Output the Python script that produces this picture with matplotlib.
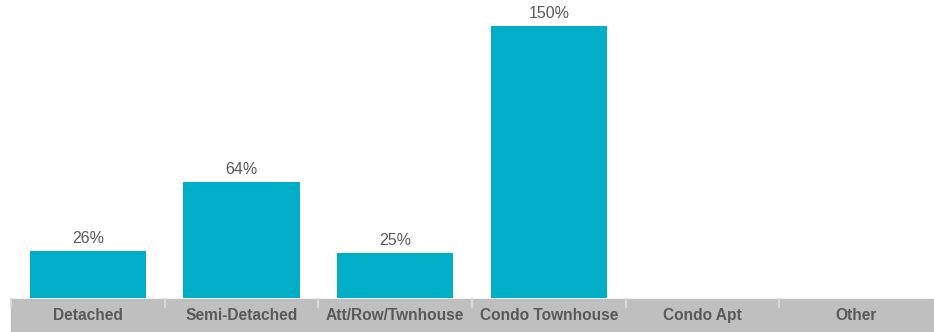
import matplotlib.pyplot as plt
from matplotlib.patches import Rectangle

categories = ["Detached", "Semi-Detached", "Att/Row/Twnhouse", "Condo Townhouse", "Condo Apt", "Other"]
values = [26, 64, 25, 150, 0, 0]
labels = ["26%", "64%", "25%", "150%", "", ""]

W, H = 934, 332
bar_color = "#00AEC7"
text_color = "#595959"
band_color = "#BFBFBF"

plt.rcParams['font.family'] = ['Liberation Sans', 'DejaVu Sans']

fig = plt.figure(figsize=(W / 100, H / 100), dpi=100)
ax = fig.add_axes([11 / W, 34 / H, 922 / W, 298 / H])

x = list(range(len(categories)))
bars = ax.bar(x, values, width=0.755, color=bar_color)
ax.set_xlim(-0.5, len(categories) - 0.5)
ax.set_ylim(0, 164.4)

for b, lab in zip(bars, labels):
    if lab:
        ax.annotate(lab, (b.get_x() + b.get_width() / 2, b.get_height()),
                    xytext=(0, 3.5), textcoords="offset points",
                    ha="center", va="bottom", fontsize=11.5, color=text_color)

# grey category band under the axis (drawn behind the axes)
fig.patches.append(Rectangle((11 / W, 0), 922 / W, 33 / H, transform=fig.transFigure,
                             color=band_color, zorder=-1))
trans = ax.get_xaxis_transform()
for i, cat in enumerate(categories):
    ax.text(i, -22 / 298, cat, transform=trans, ha="center", va="baseline",
            fontsize=11.2, fontweight="bold", color=text_color, clip_on=False)
for i in range(len(categories)):
    ax.plot([i - 0.5, i - 0.5], [-1 / 298, -9 / 298], transform=trans,
            color="#DADADA", lw=1.5, clip_on=False)

for s in ax.spines.values():
    s.set_visible(False)
ax.set_xticks([])
ax.set_yticks([])

fig.savefig("out.png", dpi=100)
